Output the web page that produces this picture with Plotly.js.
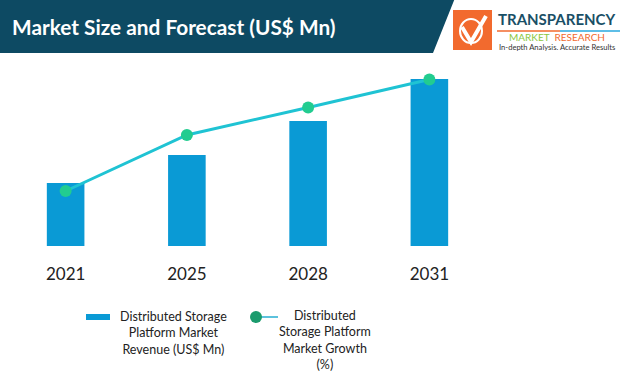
<!DOCTYPE html>
<html>
<head>
<meta charset="utf-8">
<script src="https://cdn.plot.ly/plotly-3.0.1.min.js"></script>
<style>html,body{margin:0;padding:0;background:#fff;}#chart{width:624px;height:376px;}</style>
</head>
<body>
<div id="chart"></div>
<script>
// ---- data ----
var years = ["2021", "2025", "2028", "2031"];
var revenue = [630, 910, 1250, 1670];          // Distributed Storage Platform Market Revenue (US$ Mn), estimated
var growth = [5.5, 11.1, 13.85, 16.65];         // Distributed Storage Platform Market Growth (%), estimated
var revenueName = "Distributed Storage<br>Platform Market<br>Revenue (US$ Mn)";
var growthName = "Distributed<br>Storage Platform<br>Market Growth<br>(%)";
var titleText = "Market Size and Forecast (US$ Mn)";

// ---- layout geometry ----
var W = 624, H = 376;
var M = {l: 5, r: 134, t: 60, b: 130};
var pw = W - M.l - M.r, ph = H - M.t - M.b;
function px(x) { return (x - M.l) / pw; }
function py(y) { return (H - M.b - y) / ph; }

var FONT = "Lato, 'Open Sans', sans-serif";
var barColor = "#0a9ad5";
var lineColor = "#1fc3d3";
var markerColor = "#22cc90";

var traces = [
  {type: "bar", x: years, y: revenue, name: revenueName, marker: {color: barColor}, width: 0.31,
   showlegend: false, hoverinfo: "x+y"},
  {type: "scatter", mode: "lines+markers", x: years, y: growth, yaxis: "y2", name: growthName,
   line: {color: lineColor, width: 3}, marker: {color: markerColor, size: 12}, showlegend: false}
];

var shapes = [
  // header band
  {type: "path", xref: "paper", yref: "paper", layer: "above",
   path: "M " + px(-2) + "," + py(-2) + " L " + px(455) + "," + py(-2) + " L " + px(433) + "," + py(53) + " L " + px(-2) + "," + py(53) + " Z",
   fillcolor: "#0d4a63", line: {width: 0}},
  // logo box
  {type: "rect", xref: "paper", yref: "paper", x0: px(453), x1: px(492), y0: py(10), y1: py(50),
   fillcolor: "#f26a2e", line: {width: 0}},
  {type: "path", xref: "paper", yref: "paper",
   path: "M " + px(462) + "," + py(27) + " L " + px(471) + "," + py(42) + " L " + px(486) + "," + py(16),
   line: {color: "#ffffff", width: 4}},
  {type: "circle", xref: "paper", yref: "paper", x0: px(460), x1: px(482), y0: py(19), y1: py(43),
   line: {color: "#ffffff", width: 2}},
  // logo rule
  {type: "line", xref: "paper", yref: "paper", x0: px(497), x1: px(560), y0: py(31), y1: py(31),
   line: {color: "#f26a2e", width: 1.5}},
  {type: "line", xref: "paper", yref: "paper", x0: px(560), x1: px(620), y0: py(31), y1: py(31),
   line: {color: "#29a8df", width: 1.5}},
  // legend swatches
  {type: "rect", xref: "paper", yref: "paper", x0: px(86), x1: px(110), y0: py(314), y1: py(320),
   fillcolor: barColor, line: {width: 0}},
  {type: "line", xref: "paper", yref: "paper", x0: px(256), x1: px(278), y0: py(317), y1: py(317),
   line: {color: "#5cc2dd", width: 2}},
  {type: "circle", xref: "paper", yref: "paper", x0: px(250), x1: px(262), y0: py(311), y1: py(323),
   fillcolor: "#1b9b6d", line: {width: 0}}
];

var annotations = [
  {text: "<b>" + titleText + "</b>", xref: "paper", yref: "paper", x: px(10), y: py(27),
   xanchor: "left", yanchor: "middle", showarrow: false, font: {family: FONT, size: 20.8, color: "#ffffff"}},
  {text: "<b>TRANSPARENCY</b>", xref: "paper", yref: "paper", x: px(496), y: py(19),
   xanchor: "left", yanchor: "middle", showarrow: false, font: {family: FONT, size: 15, color: "#1a4f66"}},
  {text: "<span style='color:#8dc63f'>MARKET</span>  <span style='color:#f26a2e'>RESEARCH</span>", xref: "paper", yref: "paper", x: px(557), y: py(37),
   xanchor: "center", yanchor: "middle", showarrow: false, font: {family: FONT, size: 10}},
  {text: "In-depth Analysis. Accurate Results", xref: "paper", yref: "paper", x: px(497), y: py(47),
   xanchor: "left", yanchor: "middle", showarrow: false, font: {family: FONT, size: 7.6, color: "#333333"}},
  {text: revenueName, xref: "paper", yref: "paper", x: px(173), y: py(333),
   xanchor: "center", yanchor: "middle", align: "center", showarrow: false, font: {family: FONT, size: 12.5, color: "#222222"}},
  {text: growthName, xref: "paper", yref: "paper", x: px(325), y: py(340),
   xanchor: "center", yanchor: "middle", align: "center", showarrow: false, font: {family: FONT, size: 12.5, color: "#222222"}}
];

var layout = {
  width: W, height: H,
  margin: M,
  paper_bgcolor: "#ffffff", plot_bgcolor: "#ffffff",
  showlegend: false,
  xaxis: {type: "category", range: [-0.5, 3.5], showgrid: false, zeroline: false, showline: false,
          ticks: "", tickfont: {family: FONT, size: 17, color: "#222222"}, ticklabelstandoff: 16, fixedrange: true},
  yaxis: {range: [0, 1860], visible: false, showgrid: false, zeroline: false, fixedrange: true},
  yaxis2: {range: [0, 18.6], overlaying: "y", side: "right", visible: false, showgrid: false, zeroline: false, fixedrange: true},
  shapes: shapes,
  annotations: annotations
};

Plotly.newPlot("chart", traces, layout, {displayModeBar: false, staticPlot: true});
</script>
</body>
</html>
